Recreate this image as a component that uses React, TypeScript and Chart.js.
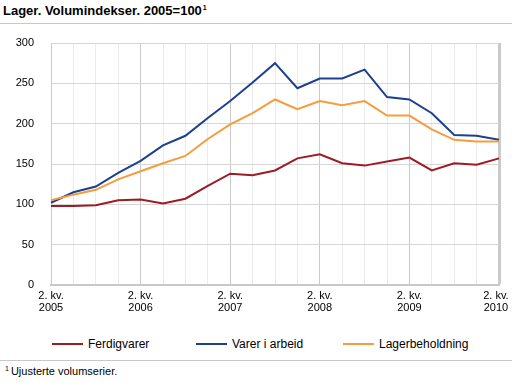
import React, { useEffect, useRef } from "react";
import { Chart, registerables } from "chart.js";

Chart.register(...registerables);

const quarters: string[] = [
  "2. kv. 2005", "3. kv. 2005", "4. kv. 2005", "1. kv. 2006",
  "2. kv. 2006", "3. kv. 2006", "4. kv. 2006", "1. kv. 2007",
  "2. kv. 2007", "3. kv. 2007", "4. kv. 2007", "1. kv. 2008",
  "2. kv. 2008", "3. kv. 2008", "4. kv. 2008", "1. kv. 2009",
  "2. kv. 2009", "3. kv. 2009", "4. kv. 2009", "1. kv. 2010",
  "2. kv. 2010",
];

const ferdigvarer: number[] = [
  98, 98, 99, 105, 106, 101, 107, 123, 138, 136, 142, 157, 162, 151, 148, 153, 158, 142, 151, 149, 157,
];
const varerIArbeid: number[] = [
  102, 115, 122, 139, 154, 173, 185, 207, 228, 251, 275, 244, 256, 256, 267, 233, 230, 213, 186, 185, 180,
];
const lagerbeholdning: number[] = [
  105, 112, 118, 131, 141, 151, 160, 181, 199, 213, 230, 218, 228, 223, 228, 210, 210, 193, 180, 178, 178,
];

const seriesNames: string[] = ["Ferdigvarer", "Varer i arbeid", "Lagerbeholdning"];
const seriesColors: string[] = ["#9e1b24", "#1c3f8f", "#f79c3c"];

const title = "Lager. Volumindekser. 2005=100";
const footnote = "Ujusterte volumserier.";

const FONT = "'Liberation Sans', Arial, Helvetica, sans-serif";

export default function App() {
  const ref = useRef<HTMLCanvasElement | null>(null);

  useEffect(() => {
    document.body.style.margin = "0";
    const canvas = ref.current;
    if (!canvas) return;
    const values = [ferdigvarer, varerIArbeid, lagerbeholdning];
    const chart = new Chart(canvas, {
      type: "line",
      data: {
        labels: quarters,
        datasets: values.map((v, i) => ({
          label: seriesNames[i],
          data: v,
          borderColor: seriesColors[i],
          backgroundColor: seriesColors[i],
          borderWidth: 2,
          pointRadius: 0,
          tension: 0,
          fill: false,
          order: 2 - i,
        })),
      },
      options: {
        animation: false,
        responsive: false,
        devicePixelRatio: 1,
        layout: { padding: { top: 43, left: 0, right: 13, bottom: 0 } },
        plugins: {
          legend: { display: false },
          tooltip: { enabled: false },
          title: { display: false },
        },
        scales: {
          x: {
            type: "category",
            offset: false,
            grid: {
              drawTicks: false,
              color: (ctx: any) => (ctx.index % 4 === 0 ? "#cacaca" : "#ebebeb"),
              lineWidth: (ctx: any) => (ctx.index === quarters.length - 1 ? 3 : 1),
            },
            border: { display: true, color: "#c8c8c8", width: 2 },
            ticks: {
              autoSkip: false,
              maxRotation: 0,
              minRotation: 0,
              padding: 5,
              color: "#000",
              font: { family: FONT, size: 11, lineHeight: 1.1 },
              callback: (_v: any, i: number) => {
                if (i % 4 !== 0) return "";
                const s = quarters[i];
                const k = s.lastIndexOf(" ");
                const pad = i === quarters.length - 1 ? "  " : "";
                return [s.slice(0, k) + pad, s.slice(k + 1) + pad];
              },
            },
            afterFit: (scale: any) => {
              scale.height = 35;
              scale.paddingLeft = 0;
              scale.paddingRight = 0;
            },
          },
          y: {
            min: 0,
            max: 300,
            grid: { drawTicks: false, color: "#d6d6d6", lineWidth: 1 },
            border: { display: false },
            ticks: {
              stepSize: 50,
              padding: 17,
              color: "#000",
              font: { family: FONT, size: 11 },
            },
            afterFit: (scale: any) => {
              scale.width = 51;
              scale.paddingTop = 0;
              scale.paddingBottom = 0;
            },
          },
        },
      },
    });
    return () => chart.destroy();
  }, []);

  const legendX = [52, 196, 343];

  return (
    <div
      style={{
        position: "absolute",
        left: 0,
        top: 0,
        width: 512,
        height: 383,
        fontFamily: FONT,
        background: "#fff",
        overflow: "hidden",
      }}
    >
      <div
        style={{
          position: "absolute",
          left: 3,
          top: 3,
          fontSize: 13,
          lineHeight: "16px",
          fontWeight: "bold",
          whiteSpace: "nowrap",
          color: "#000",
        }}
      >
        {title}
        <span style={{ fontSize: 7, position: "relative", top: -5, marginLeft: 1 }}>1</span>
      </div>
      <div style={{ position: "absolute", left: 0, top: 23, width: 512, height: 1, background: "#c8c8c8" }} />
      <canvas ref={ref} width={512} height={320} style={{ position: "absolute", left: 0, top: 0 }} />
      {seriesNames.map((name, i) => (
        <div key={name} style={{ position: "absolute", left: legendX[i], top: 336, height: 16 }}>
          <div
            style={{
              position: "absolute",
              left: 0,
              top: 7,
              width: 31,
              height: 2,
              background: seriesColors[i],
            }}
          />
          <div
            style={{
              position: "absolute",
              left: 36,
              top: 0,
              fontSize: 12,
              lineHeight: "16px",
              whiteSpace: "nowrap",
              color: "#000",
            }}
          >
            {name}
          </div>
        </div>
      ))}
      <div style={{ position: "absolute", left: 0, top: 360, width: 512, height: 1, background: "#c8c8c8" }} />
      <div
        style={{
          position: "absolute",
          left: 5,
          top: 365,
          fontSize: 11,
          lineHeight: "13px",
          whiteSpace: "nowrap",
          color: "#000",
        }}
      >
        <span style={{ fontSize: 7, position: "relative", top: -4, marginRight: 2 }}>1</span>
        {footnote}
      </div>
    </div>
  );
}
